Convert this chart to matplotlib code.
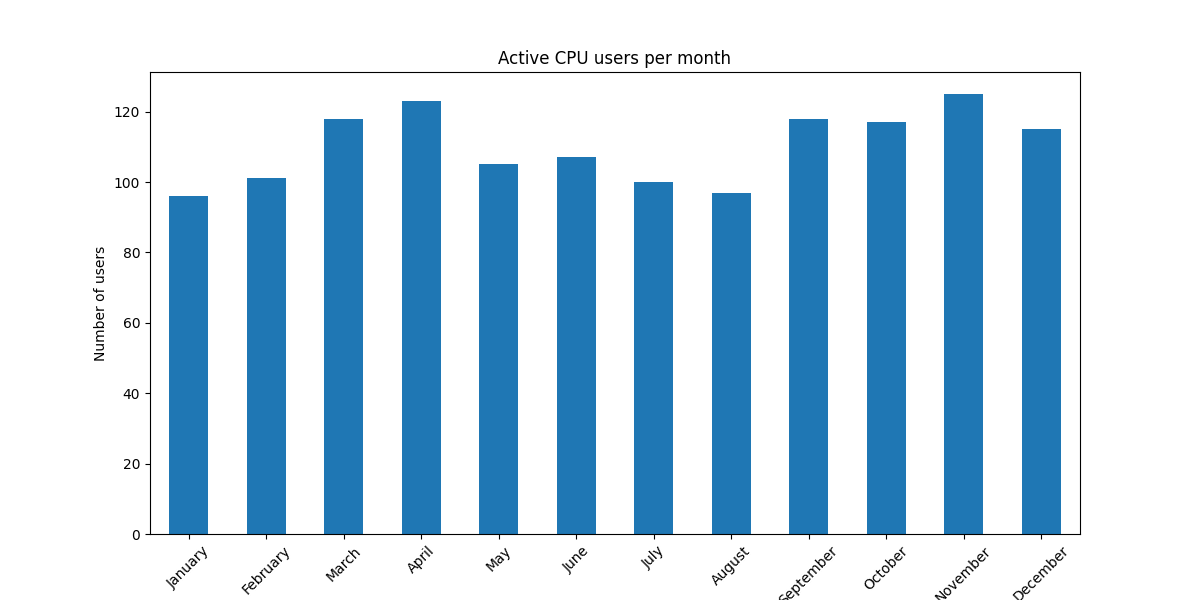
import matplotlib

matplotlib.use("Agg")
import matplotlib.pyplot as plt

months = ["January", "February", "March", "April", "May", "June", "July",
          "August", "September", "October", "November", "December"]
users = [96, 101, 118, 123, 105, 107, 100, 97, 118, 117, 125, 115]

fig, ax = plt.subplots(figsize=(12, 6), dpi=100)
ax.bar(range(len(months)), users, width=0.5, color="#1f77b4")
ax.set_xticks(range(len(months)))
ax.set_xticklabels(months, rotation=45)
ax.set_xlim(-0.5, len(months) - 0.5)
ax.set_ylabel("Number of users")
ax.set_title("Active CPU users per month")
fig.savefig("out.png")
